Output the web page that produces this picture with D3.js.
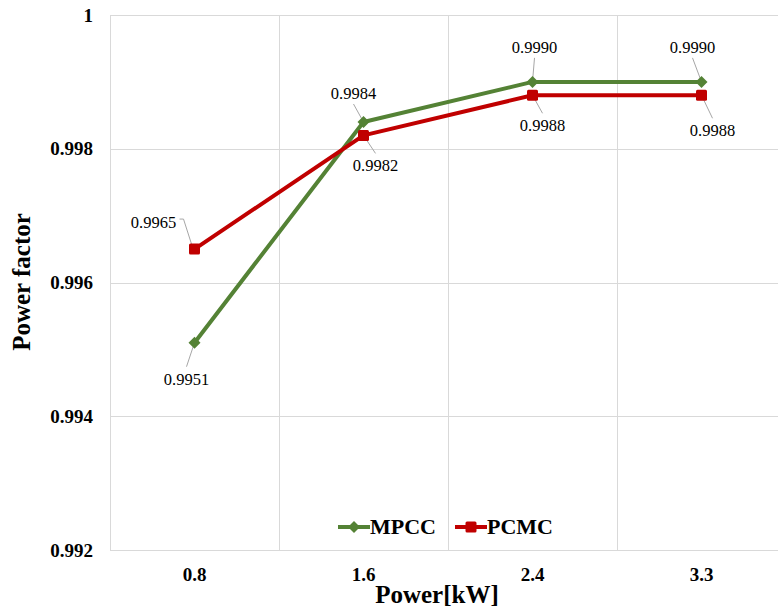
<!DOCTYPE html>
<html><head><meta charset="utf-8">
<script src="https://cdn.jsdelivr.net/npm/d3@7"></script>
</head><body style="margin:0;background:#fff">
<script>
const categories = ["0.8", "1.6", "2.4", "3.3"];
const mpcc = [0.9951, 0.9984, 0.9990, 0.9990];
const pcmc = [0.9965, 0.9982, 0.9988, 0.9988];
const yTicks = [0.992, 0.994, 0.996, 0.998, 1];
const seriesNames = ["MPCC", "PCMC"];

// label placement (offsets from point, px)
const mpccLabelOff = [[-8, 37], [-10, -28], [2, -34], [-9, -34]];
const pcmcLabelOff = [[-32, -26], [12, 31], [10, 31], [11, 36]];

const W = 778, H = 614;
const m = {left: 110, top: 15, right: -8, bottom: 64};
const FONT = '"Liberation Serif"';
const svg = d3.select("body").append("svg").attr("width", W).attr("height", H)
  .style("display", "block").style("font-family", FONT);
const x = d3.scaleBand().domain(categories).range([m.left, W - m.right]);
const y = d3.scaleLinear().domain([0.992, 1]).range([H - m.bottom, m.top]);

// gridlines
svg.append("g").selectAll("line").data(yTicks).join("line")
  .attr("x1", m.left).attr("x2", W - m.right)
  .attr("y1", d => Math.round(y(d)) + 0.5).attr("y2", d => Math.round(y(d)) + 0.5)
  .attr("stroke", "#d9d9d9").attr("stroke-width", 1);
svg.append("g").selectAll("line").data(categories).join("line")
  .attr("x1", d => Math.round(x(d)) + 0.5).attr("x2", d => Math.round(x(d)) + 0.5)
  .attr("y1", m.top).attr("y2", H - m.bottom)
  .attr("stroke", "#d9d9d9").attr("stroke-width", 1);

// y tick labels
const yAxis = svg.append("g").attr("transform", `translate(${m.left},0)`)
  .call(d3.axisLeft(y).tickValues(yTicks).tickSize(0).tickPadding(17).tickFormat(d => d === 1 ? "1" : d3.format(".3f")(d)));
yAxis.select(".domain").remove();
yAxis.selectAll("text").style("font-family", FONT).attr("font-weight", "bold").attr("font-size", 19).attr("fill", "#000");

// x tick labels
const xAxis = svg.append("g").attr("transform", `translate(0,${H - m.bottom})`)
  .call(d3.axisBottom(x).tickSize(0).tickPadding(18));
xAxis.select(".domain").remove();
xAxis.selectAll("text").style("font-family", FONT).attr("font-weight", "bold").attr("font-size", 19).attr("fill", "#000");

// axis titles
svg.append("text").attr("x", 437).attr("y", 603).attr("text-anchor", "middle").style("font-family", FONT)
  .attr("font-weight", "bold").attr("font-size", 25).text("Power[kW]");
svg.append("text").attr("transform", "translate(30,282) rotate(-90)").attr("text-anchor", "middle").style("font-family", FONT)
  .attr("font-weight", "bold").attr("font-size", 25).text("Power factor");

const cx = d => x(d) + x.bandwidth() / 2;
const line = d3.line().x(d => cx(d.c)).y(d => y(d.v));
const series = [
  {name: seriesNames[0], vals: mpcc, color: "#548235", marker: "diamond", off: mpccLabelOff},
  {name: seriesNames[1], vals: pcmc, color: "#c00000", marker: "square", off: pcmcLabelOff}
];

function drawMarker(g, type, color, px, py) {
  if (type === "diamond") {
    g.append("path").attr("d", `M${px},${py-6}L${px+6},${py}L${px},${py+6}L${px-6},${py}Z`).attr("fill", color);
  } else {
    g.append("rect").attr("x", px - 5.5).attr("y", py - 5.5).attr("width", 11).attr("height", 11).attr("rx", 1.5).attr("fill", color);
  }
}

// leader lines & labels
series.forEach(s => {
  const g = svg.append("g");
  s.vals.forEach((v, i) => {
    const px = cx(categories[i]), py = y(v);
    const [dx, dy] = s.off[i];
    const tx = px + dx, ty = py + dy;
    const lx = tx + (dx < -20 ? 20 : 0), ly = ty + (dy < 0 ? 10 : -13);
    const len = Math.hypot(px - lx, py - ly);
    const ex = px + (lx - px) * 4 / len, ey = py + (ly - py) * 4 / len;
    if (dx < -20) {
      g.append("path").attr("d", `M${tx + 17},${ty - 4}L${tx + 21},${ty - 4}L${ex},${ey}`)
        .attr("fill", "none").attr("stroke", "#a6a6a6").attr("stroke-width", 1);
    } else {
      g.append("line").attr("x1", lx).attr("y1", ly).attr("x2", ex).attr("y2", ey)
        .attr("stroke", "#a6a6a6").attr("stroke-width", 1);
    }
    g.append("text").attr("x", dx < -20 ? tx - 9 : tx).attr("y", ty + 5).attr("text-anchor", "middle")
      .style("font-family", FONT).attr("font-size", 16.5).attr("fill", "#000")
      .text(d3.format(".4f")(v));
  });
});

// series lines & markers
series.forEach(s => {
  const data = s.vals.map((v, i) => ({c: categories[i], v}));
  svg.append("path").datum(data).attr("d", line).attr("fill", "none")
    .attr("stroke", s.color).attr("stroke-width", 4).attr("stroke-linejoin", "round");
  const g = svg.append("g");
  data.forEach(d => drawMarker(g, s.marker, s.color, cx(d.c), y(d.v)));
});

// legend
const leg = svg.append("g");
const legItems = [{x0: 338, tx: 370}, {x0: 455, tx: 487}];
series.forEach((s, i) => {
  const L = legItems[i];
  leg.append("line").attr("x1", L.x0).attr("x2", L.x0 + 32).attr("y1", 527).attr("y2", 527)
    .attr("stroke", s.color).attr("stroke-width", 4);
  drawMarker(leg, s.marker, s.color, L.x0 + 16, 527);
  leg.append("text").attr("x", L.tx).attr("y", 534).style("font-family", FONT)
    .attr("font-weight", "bold").attr("font-size", 22).text(s.name);
});
</script>
</body></html>
